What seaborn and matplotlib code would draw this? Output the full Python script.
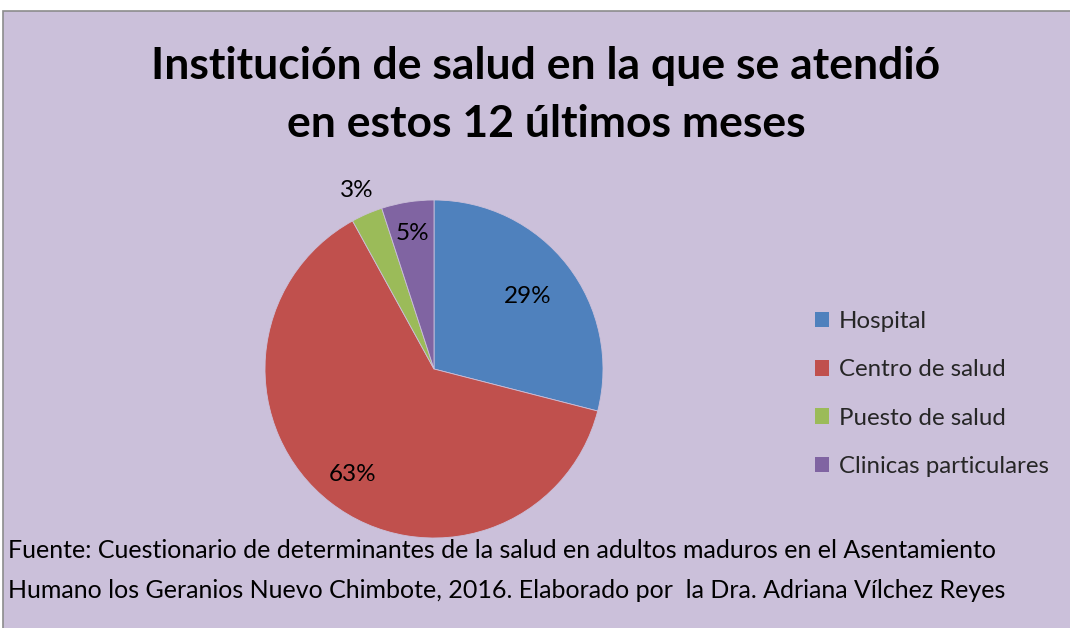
import matplotlib
matplotlib.use('Agg')
import matplotlib.pyplot as plt
import seaborn as sns
import numpy as np
from matplotlib.patches import Rectangle, Patch

# data
categories = ['Hospital', 'Centro de salud', 'Puesto de salud', 'Clinicas particulares']
values = [29, 63, 3, 5]
pct_labels = ['29%', '63%', '3%', '5%']
colors = ['#4F81BD', '#C0504D', '#9BBB59', '#8064A2']
label_dist = [0.70, 0.79, 1.15, 0.81]

title_lines = ['Institución de salud en la que se atendió', 'en estos 12 últimos meses']
source_lines = ['Fuente: Cuestionario de determinantes de la salud en adultos maduros en el Asentamiento',
                'Humano los Geranios Nuevo Chimbote, 2016. Elaborado por  la Dra. Adriana Vílchez Reyes']

sns.set_theme(style='white')
plt.rcParams['font.family'] = ['Lato', 'DejaVu Sans']

W, H = 1070, 628
fig = plt.figure(figsize=(W / 100, H / 100), dpi=100, facecolor='white')

# chart area background with grey border
fig.patches.append(Rectangle((3 / W, -0.01), 1.0, 1 - 11 / H + 0.01, transform=fig.transFigure,
                             facecolor='#CBC0DA', edgecolor='#8C8C8C', lw=1.2, zorder=-5))

# pie axes: centre (434, 369), radius 169 px
cx, cy, r = 434, 369, 169
ax = fig.add_axes([(cx - r) / W, (H - cy - r) / H, 2 * r / W, 2 * r / H])
ax.set_zorder(2)
wedges, _ = ax.pie(values, colors=colors, startangle=90, counterclock=False,
                   wedgeprops=dict(linewidth=0.6, edgecolor='#CBC0DA', clip_on=False))
ax.set_xlim(-1, 1)
ax.set_ylim(-1, 1)
ax.set_aspect('equal')
ax.axis('off')

for w, lab, d in zip(wedges, pct_labels, label_dist):
    mid = np.deg2rad((w.theta1 + w.theta2) / 2)
    ax.text(d * np.cos(mid), d * np.sin(mid), lab, ha='center', va='center',
            fontsize=17.5, color='black')

# title
fig.text(546 / W, 1 - 66 / H, title_lines[0], ha='center', va='center',
         fontsize=32, fontweight='bold', color='black')
fig.text(546 / W, 1 - 124 / H, title_lines[1], ha='center', va='center',
         fontsize=32, fontweight='bold', color='black')

# legend
handles = [Patch(facecolor=c, edgecolor='none') for c in colors]
fig.legend(handles, categories, loc='center left', bbox_to_anchor=(815 / W, 1 - 394 / H),
           frameon=False, fontsize=17.3, handlelength=0.6, handleheight=0.6,
           handletextpad=0.4, labelspacing=1.13, borderpad=0, borderaxespad=0)

# source note
fig.text(8 / W, 1 - 551 / H, source_lines[0], ha='left', va='center', fontsize=18, color='black')
fig.text(8 / W, 1 - 590 / H, source_lines[1], ha='left', va='center', fontsize=18, color='black')

fig.savefig('out.png', dpi=100, facecolor=fig.get_facecolor())
